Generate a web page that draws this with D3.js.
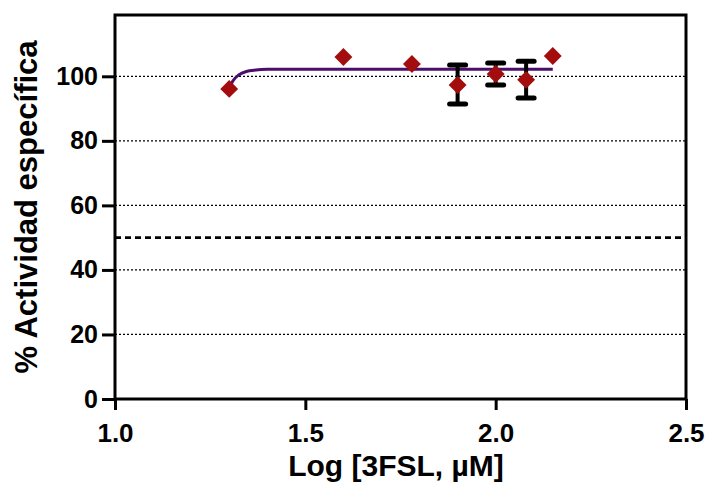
<!DOCTYPE html>
<html>
<head>
<meta charset="utf-8">
<script src="https://cdn.jsdelivr.net/npm/d3@7"></script>
<style>
body { margin: 0; background: #fff; }
text { font-family: "Liberation Sans", Arial, sans-serif; font-weight: bold; }
</style>
</head>
<body>
<div class="container"></div>
<script>
const wd = 708
const ht = 487

// log concentration of each point and measured activity
const logConc = [1.30, 1.60, 1.78, 1.90, 2.00, 2.08, 2.15]
const actividad = [96.1, 106.0, 103.8, 97.3, 100.7, 98.9, 106.3]
// error bars (only for some points)
const errLow = [null, null, null, 91.4, 97.3, 93.3, null]
const errHigh = [null, null, null, 103.5, 104.1, 104.7, null]

// fitted curve
const curveX = [1.30, 1.31, 1.325, 1.345, 1.37, 1.40, 1.45, 1.60, 2.15]
const curveY = [96.1, 98.6, 100.4, 101.5, 101.95, 102.15, 102.2, 102.2, 102.2]

const gridVals = [20, 40, 60, 80, 100]
const refLine = 50
const yTicks = [0, 20, 40, 60, 80, 100]
const xTicks = [1.0, 1.5, 2.0, 2.5]

const svgC = d3.select(".container")
.append("svg")
.attr("height", ht)
.attr("width", wd)

const xScale = d3.scaleLinear()
.domain([1.0, 2.5])
.range([115, 686])

const yScale = d3.scaleLinear()
.domain([0, 119])
.range([399, 15])

//dotted grid
svgC.selectAll(".grid")
.data(gridVals)
.enter()
.append("line")
.attr("x1", xScale(1.0))
.attr("x2", xScale(2.5))
.attr("y1", d=> yScale(d))
.attr("y2", d=> yScale(d))
.style("stroke", "#000")
.style("stroke-width", "1.2px")
.style("stroke-dasharray", "2,2")

//50% line
svgC.append("line")
.attr("x1", xScale(1.0))
.attr("x2", xScale(2.5))
.attr("y1", yScale(refLine))
.attr("y2", yScale(refLine))
.style("stroke", "#000")
.style("stroke-width", "2.6px")
.style("stroke-dasharray", "6,4")

//frame
svgC.append("rect")
.attr("x", xScale(1.0))
.attr("y", yScale(119))
.attr("width", xScale(2.5) - xScale(1.0))
.attr("height", yScale(0) - yScale(119))
.attr("fill", "none")
.style("stroke", "#000")
.style("stroke-width", "3px")

//axes
const yAxis = d3.axisLeft(yScale).tickValues(yTicks).tickFormat(d3.format("d")).tickSize(13).tickPadding(4)
const xAxis = d3.axisBottom(xScale).tickValues(xTicks).tickFormat(d3.format(".1f")).tickSize(11).tickPadding(14)

const gy = svgC.append("g")
.attr("transform", "translate(" + xScale(1.0) + ",0)")
.call(yAxis)
const gx = svgC.append("g")
.attr("transform", "translate(0," + yScale(0) + ")")
.call(xAxis)

gy.select(".domain").remove()
gx.select(".domain").remove()
svgC.selectAll(".tick line").style("stroke", "#000").style("stroke-width", "3px")
svgC.selectAll(".tick text")
.style("font-size", "25px")
.style("fill", "#000")
.style("font-family", "'Liberation Sans', Arial, sans-serif")
.style("font-weight", "bold")
gx.selectAll(".tick text").attr("dy", "0.7em").style("font-size", "26px")

//axis titles
svgC.append("text")
.attr("x", 396)
.attr("y", 476)
.attr("text-anchor", "middle")
.style("font-size", "30px")
.text("Log [3FSL, µM]")

svgC.append("text")
.attr("transform", "translate(37,207) rotate(-90)")
.attr("text-anchor", "middle")
.style("font-size", "31px")
.text("% Actividad específica")

//curve
const lineObj = d3.line()
.x(d=> xScale(d[0]))
.y(d=> yScale(d[1]))
.curve(d3.curveMonotoneX)

svgC.append("path")
.attr("d", lineObj(d3.zip(curveX, curveY)))
.attr("fill", "none")
.style("stroke", "#4a0f6b")
.style("stroke-width", "3px")

//error bars
const pts = d3.range(logConc.length).map(i=> ({x:logConc[i], y:actividad[i], lo:errLow[i], hi:errHigh[i]}))
const withErr = pts.filter(d=> d.lo !== null)

svgC.selectAll(".ebar")
.data(withErr)
.enter()
.append("line")
.attr("x1", d=> xScale(d.x))
.attr("x2", d=> xScale(d.x))
.attr("y1", d=> yScale(d.lo))
.attr("y2", d=> yScale(d.hi))
.style("stroke", "#000")
.style("stroke-width", "4px")

withErr.forEach(d=> {
  [d.lo, d.hi].forEach(v=> {
    svgC.append("line")
    .attr("x1", xScale(d.x) - 8)
    .attr("x2", xScale(d.x) + 8)
    .attr("y1", yScale(v))
    .attr("y2", yScale(v))
    .style("stroke", "#000")
    .style("stroke-width", "5px")
    .style("stroke-linecap", "round")
  })
})

//diamonds
svgC.selectAll(".pt")
.data(pts)
.enter()
.append("path")
.attr("d", d3.symbol().type(d3.symbolSquare).size(160))
.attr("transform", d=> "translate(" + xScale(d.x) + "," + yScale(d.y) + ") rotate(45)")
.attr("fill", "#a30d0d")
</script>
</body>
</html>
